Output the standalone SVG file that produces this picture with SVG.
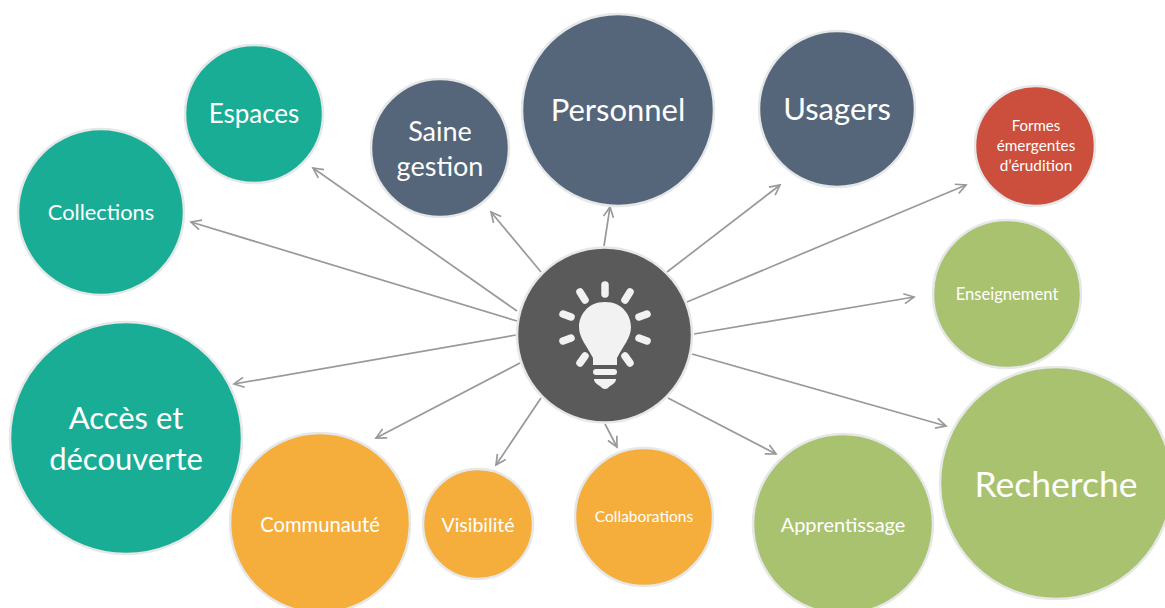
<svg xmlns="http://www.w3.org/2000/svg" width="1165" height="608" viewBox="0 0 1165 608">
<style>
.n{stroke:#e6e7e8;stroke-width:2.5}
.teal{fill:#19ad96}.slate{fill:#55667a}.org{fill:#f5ae3c}.grn{fill:#a9c26f}.red{fill:#cb4f3c}
text{font-family:"Lato","Open Sans","Liberation Sans",sans-serif;fill:#fff;text-anchor:middle}
.c line{stroke:#999;stroke-width:1.7;marker-end:url(#a)}
.b{fill:#f2f2f2}
.r{stroke:#f2f2f2;stroke-width:7.5;stroke-linecap:round}
</style>
<defs><marker id="a" markerUnits="userSpaceOnUse" markerWidth="16" markerHeight="16" refX="13" refY="8" orient="auto"><path d="M3 3L13 8L3 13" fill="none" stroke="#999" stroke-width="1.7"/></marker></defs>
<rect width="1165" height="608" fill="#fff"/>
<g id="connectors" class="c">
<line x1="517" y1="311" x2="313" y2="168"/>
<line x1="517" y1="321" x2="191" y2="222"/>
<line x1="516" y1="335" x2="234" y2="384"/>
<line x1="520" y1="363" x2="376" y2="438"/>
<line x1="541" y1="398" x2="496" y2="465"/>
<line x1="605" y1="424" x2="617" y2="447"/>
<line x1="668" y1="398" x2="776" y2="454"/>
<line x1="692" y1="354" x2="946" y2="426"/>
<line x1="694" y1="334" x2="914" y2="297"/>
<line x1="687" y1="302" x2="966" y2="185"/>
<line x1="667" y1="272" x2="780" y2="185"/>
<line x1="604" y1="246" x2="610" y2="207"/>
<line x1="541" y1="272" x2="491" y2="212"/>
</g>
<g id="espaces"><circle class="n teal" cx="254" cy="114" r="69"/><text x="254" y="123" font-size="26">Espaces</text></g>
<g id="collections"><circle class="n teal" cx="101" cy="212" r="83"/><text x="101" y="220" font-size="21.8">Collections</text></g>
<g id="acces"><circle class="n teal" cx="126" cy="438" r="116"/><text x="126" y="429" font-size="31">Accès et</text><text x="126" y="470" font-size="31">découverte</text></g>
<g id="communaute"><circle class="n org" cx="320" cy="523" r="90"/><text x="320" y="532" font-size="20.2">Communauté</text></g>
<g id="visibilite"><circle class="n org" cx="478" cy="524" r="55"/><text x="478" y="532" font-size="19.5">Visibilité</text></g>
<g id="collaborations"><circle class="n org" cx="644" cy="517" r="69"/><text x="644" y="522" font-size="15.5">Collaborations</text></g>
<g id="apprentissage"><circle class="n grn" cx="843" cy="524" r="90"/><text x="843" y="532" font-size="20">Apprentissage</text></g>
<g id="recherche"><circle class="n grn" cx="1056" cy="483" r="116"/><text x="1056" y="497" font-size="35.5">Recherche</text></g>
<g id="enseignement"><circle class="n grn" cx="1007" cy="294" r="74"/><text x="1007" y="300" font-size="16.6">Enseignement</text></g>
<g id="formes"><circle class="n red" cx="1035" cy="146" r="60"/><text x="1036" y="131" font-size="15">Formes</text><text x="1036" y="151" font-size="15.3">émergentes</text><text x="1036" y="171" font-size="15.3">d’érudition</text></g>
<g id="usagers"><circle class="n slate" cx="837" cy="109" r="78"/><text x="837" y="120" font-size="31">Usagers</text></g>
<g id="personnel"><circle class="n slate" cx="618" cy="110" r="96"/><text x="618" y="121" font-size="31">Personnel</text></g>
<g id="saine-gestion"><circle class="n slate" cx="440" cy="148" r="69"/><text x="440" y="141" font-size="27">Saine</text><text x="440" y="176" font-size="27">gestion</text></g>
<g id="centre"><circle class="n" cx="604.5" cy="335" r="87.5" fill="#5a5a5a"/>
<g class="r"><line x1="605" y1="285" x2="605" y2="294"/><line x1="580" y1="292" x2="585" y2="300"/><line x1="630" y1="292" x2="625" y2="300"/><line x1="563" y1="314" x2="571" y2="317"/><line x1="647" y1="314" x2="639" y2="317"/><line x1="563" y1="341" x2="571" y2="338"/><line x1="647" y1="341" x2="639" y2="338"/><line x1="580" y1="363" x2="585" y2="356"/><line x1="630" y1="363" x2="625" y2="356"/></g>
<path class="b" d="M605 302C587 302 579 316 579 327C579 338 587 346 593 358V365H617V358C623 346 631 338 631 327C631 316 623 302 605 302Z"/>
<rect class="b" x="593" y="369" width="24" height="6" rx="3"/>
<path class="b" d="M594 379H616C616 384 610 385 608 388Q605 390 602 388C600 385 594 384 594 379Z"/>
</g>
</svg>
